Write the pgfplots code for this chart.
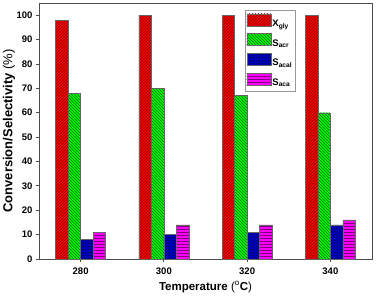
\documentclass[border=0pt]{standalone}
\usepackage{pgfplots}
\pgfplotsset{compat=1.18}
\usepackage{fontspec}
\setmainfont{Liberation Sans}
\usetikzlibrary{patterns}
\definecolor{cred}{RGB}{255,0,0}
\definecolor{cgreen}{RGB}{0,255,0}
\definecolor{cblue}{RGB}{0,0,200}
\definecolor{cmag}{RGB}{255,0,255}
\begin{document}
\begin{tikzpicture}
\begin{axis}[
  name=ax,
  scale only axis, width=333pt, height=256pt,
  ybar=0pt, bar width=12.5pt,
  xmin=-0.5, xmax=3.5, ymin=0, ymax=105,
  xtick=data, xticklabels={280,300,320,340},
  ytick={0,10,...,100},
  tick align=outside, tick pos=left,
  major tick length=3pt,
  axis line style={draw=black!70, line width=0.8pt},
  every tick/.style={black!70, line width=0.8pt},
  tick label style={font=\fontsize{9.5}{11}\selectfont\bfseries},
  xticklabel style={yshift=-2pt},
  /pgf/number format/assume math mode=true,
  xlabel={\bfseries Temperature \mdseries(\textsuperscript{o}\bfseries C\mdseries)},
  ylabel={\bfseries Conversion/Selectivity \mdseries(\%)},
  xlabel style={font=\fontsize{11.5}{13}\selectfont, at={(axis description cs:0.5,-0.109)}, anchor=center},
  ylabel style={font=\fontsize{13}{15}\selectfont, at={(axis description cs:-0.09,0.5)}, anchor=center},
  legend style={at={(axis description cs:0.77,0.973)}, anchor=north east, draw=black!40,
    font=\fontsize{9.5}{11}\selectfont\bfseries, row sep=4.5pt, inner xsep=1.5pt, inner ysep=3.5pt,
    nodes={inner xsep=1.5pt, inner ysep=1pt}},
  legend image code/.code={\draw[#1] (0pt,-2pt) rectangle (24pt,10pt);},
  legend cell align=left,
]
\addplot[draw=black!60, fill=cred, postaction={pattern=north east lines, pattern color=red!50!black}] coordinates {(0,98) (1,100) (2,100) (3,100)};
\addplot[draw=black!60, fill=cgreen, postaction={pattern=north west lines, pattern color=green!40!black}] coordinates {(0,68) (1,70) (2,67) (3,60)};
\addplot[draw=black!60, fill=cblue, postaction={pattern=crosshatch dots, pattern color=black}] coordinates {(0,8) (1,10) (2,11) (3,14)};
\addplot[draw=black!60, fill=cmag, postaction={pattern=horizontal lines, pattern color=magenta!50!black}] coordinates {(0,11) (1,14) (2,14) (3,16)};
\legend{X\textsubscript{gly}, S\textsubscript{acr}, S\textsubscript{acal}, S\textsubscript{aca}}
\end{axis}
\pgfresetboundingbox
\path[use as bounding box] ([shift={(-39pt,-40pt)}]ax.south west) rectangle ([shift={(4pt,3pt)}]ax.north east);
\end{tikzpicture}
\end{document}
